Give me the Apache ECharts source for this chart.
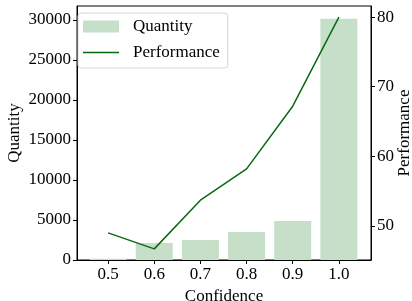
<!DOCTYPE html>
<html>
<head>
<meta charset="utf-8">
<script src="https://cdn.jsdelivr.net/npm/echarts@6/dist/echarts.min.js"></script>
<style>
  html, body { margin: 0; padding: 0; background: #fff; }
  #chart { width: 412px; height: 301px; }
</style>
</head>
<body>
<div id="chart"></div>
<script>
// confidence bins
const confidence = [0.5, 0.6, 0.7, 0.8, 0.9, 1.0];
const quantity = [150, 2130, 2500, 3500, 4880, 30150];
const performance = [49.0, 46.7, 53.7, 58.2, 67.2, 80.0];
const quantityTicks = [0, 5000, 10000, 15000, 20000, 25000, 30000];
const perfTicks = [50, 60, 70, 80];

const font = "Liberation Serif";
const mychart = echarts.init(document.getElementById("chart"));

const option = {
  animation: false,
  textStyle: { fontFamily: font },
  grid: {
    left: 77,
    right: 41,
    top: 6,
    bottom: 41,
    containLabel: false,
    outerBoundsMode: "none",
    show: true,
    borderColor: "#000",
    borderWidth: 1
  },
  legend: {
    left: 78,
    top: 13,
    orient: "vertical",
    itemWidth: 36,
    itemHeight: 12,
    itemGap: 9,
    padding: [5, 8, 7, 5],
    borderColor: "#d6d6d6",
    borderWidth: 1,
    borderRadius: 3,
    backgroundColor: "rgba(255,255,255,0.8)",
    textStyle: { fontFamily: font, fontSize: 17, color: "#000", padding: [0, 0, 0, 9] },
    data: [
      { name: "Quantity", icon: "rect" },
      { name: "Performance", icon: "path://M0,0H36V1.5H0Z" }
    ]
  },
  xAxis: {
    type: "value",
    min: 0.4326,
    max: 1.0696,
    name: "Confidence",
    nameLocation: "middle",
    nameGap: 28,
    nameMoveOverlap: false,
    nameTextStyle: { fontSize: 17, color: "#000", fontFamily: font },
    axisLine: { show: true, lineStyle: { color: "#000", width: 1 } },
    axisTick: { show: true, length: 4, customValues: confidence, lineStyle: { color: "#000" } },
    axisLabel: {
      customValues: confidence,
      fontSize: 17,
      color: "#000",
      margin: 6,
      formatter: v => v.toFixed(1)
    },
    splitLine: { show: false }
  },
  yAxis: [
    {
      type: "value",
      min: 0,
      max: 31750,
      interval: 5000,
      name: "Quantity",
      nameLocation: "middle",
      nameGap: 54,
      nameMoveOverlap: false,
      nameTextStyle: { fontSize: 17, color: "#000", fontFamily: font },
      axisLine: { show: true, lineStyle: { color: "#000", width: 1 } },
      axisTick: { show: true, length: 4, customValues: quantityTicks, lineStyle: { color: "#000" } },
      axisLabel: { customValues: quantityTicks, fontSize: 17, color: "#000", margin: 6, formatter: v => String(v) },
      splitLine: { show: false }
    },
    {
      type: "value",
      min: 45.1,
      max: 81.6,
      name: "Performance",
      nameLocation: "middle",
      nameRotate: 90,
      nameGap: 25,
      nameMoveOverlap: false,
      nameTextStyle: { fontSize: 17, color: "#000", fontFamily: font },
      position: "right",
      axisLine: { show: true, lineStyle: { color: "#000", width: 1 } },
      axisTick: { show: true, length: 4, customValues: perfTicks, lineStyle: { color: "#000" } },
      axisLabel: { customValues: perfTicks, fontSize: 17, color: "#000", margin: 6, formatter: v => String(v) },
      splitLine: { show: false }
    }
  ],
  series: [
    {
      name: "Quantity",
      type: "bar",
      barWidth: 37,
      itemStyle: { color: "#c6dfc8" },
      data: confidence.map((c, i) => [c, quantity[i]])
    },
    {
      name: "Performance",
      type: "line",
      yAxisIndex: 1,
      symbol: "none",
      lineStyle: { color: "#0a690f", width: 1.5 },
      itemStyle: { color: "#0a690f" },
      data: confidence.map((c, i) => [c, performance[i]])
    }
  ]
};
mychart.setOption(option);
</script>
</body>
</html>
